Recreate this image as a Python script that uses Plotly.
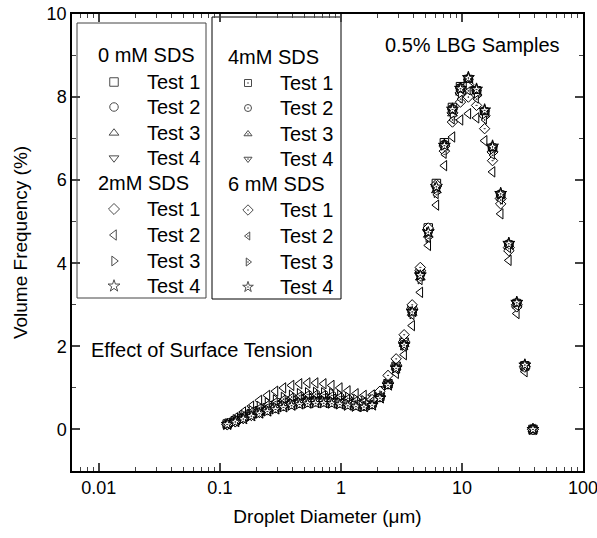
import plotly.graph_objects as go

# Droplet diameter (um)
diam = [0.115, 0.134, 0.156, 0.182, 0.212, 0.247, 0.288, 0.335, 0.391, 0.455,
        0.531, 0.618, 0.721, 0.840, 0.979, 1.14, 1.33, 1.55, 1.81, 2.10,
        2.45, 2.86, 3.33, 3.88, 4.53, 5.27, 6.15, 7.16, 8.35, 9.73,
        11.3, 13.2, 15.4, 17.9, 20.9, 24.4, 28.4, 33.1, 38.6]

# 0 mM SDS
sds0_t1 = [0.13,0.21,0.30,0.38,0.45,0.52,0.58,0.63,0.68,0.71,0.74,0.75,0.75,0.74,0.71,0.67,0.63,0.61,0.64,0.80,1.10,1.52,2.10,2.90,3.80,4.85,5.92,6.90,7.75,8.25,8.42,8.15,7.62,6.75,5.62,4.42,3.02,1.53,0.00]
sds0_t2 = [0.12,0.20,0.28,0.36,0.43,0.50,0.56,0.61,0.65,0.69,0.71,0.72,0.72,0.71,0.68,0.65,0.61,0.59,0.62,0.78,1.08,1.50,2.07,2.87,3.76,4.80,5.88,6.86,7.72,8.22,8.40,8.14,7.64,6.78,5.65,4.45,3.04,1.54,0.00]
sds0_t3 = [0.14,0.23,0.33,0.43,0.52,0.60,0.67,0.73,0.78,0.81,0.84,0.85,0.85,0.83,0.80,0.76,0.71,0.68,0.70,0.84,1.12,1.50,2.05,2.80,3.65,4.68,5.75,6.75,7.60,8.10,8.32,8.08,7.58,6.72,5.60,4.40,3.00,1.52,0.00]
sds0_t4 = [0.13,0.22,0.31,0.40,0.48,0.56,0.62,0.68,0.73,0.76,0.79,0.80,0.80,0.78,0.75,0.71,0.67,0.64,0.67,0.82,1.10,1.49,2.06,2.84,3.72,4.74,5.82,6.80,7.66,8.16,8.38,8.12,7.62,6.76,5.64,4.44,3.03,1.54,0.00]
# 2 mM SDS
sds2_t1 = [0.12,0.19,0.27,0.35,0.42,0.49,0.54,0.59,0.63,0.67,0.69,0.70,0.70,0.69,0.66,0.63,0.60,0.58,0.62,0.79,1.12,1.55,2.12,2.92,3.82,4.82,5.86,6.82,7.62,8.10,8.30,8.05,7.55,6.68,5.56,4.38,3.00,1.52,0.00]
sds2_t2 = [0.15,0.28,0.42,0.56,0.70,0.82,0.92,1.00,1.06,1.10,1.12,1.12,1.10,1.06,1.00,0.93,0.86,0.82,0.83,0.92,1.10,1.35,1.80,2.50,3.30,4.43,5.40,6.35,7.04,7.45,7.60,7.50,6.95,6.20,5.19,4.07,2.79,1.39,0.00]
sds2_t3 = [0.14,0.24,0.35,0.46,0.56,0.65,0.72,0.78,0.83,0.87,0.89,0.90,0.89,0.87,0.83,0.78,0.73,0.70,0.72,0.85,1.12,1.50,2.02,2.78,3.62,4.62,5.70,6.70,7.55,8.05,8.28,8.05,7.55,6.70,5.58,4.40,3.00,1.52,0.00]
sds2_t4 = [0.12,0.19,0.26,0.33,0.40,0.45,0.50,0.55,0.59,0.62,0.64,0.65,0.65,0.64,0.62,0.59,0.56,0.55,0.59,0.76,1.07,1.48,2.04,2.84,3.72,4.76,5.85,6.84,7.71,8.21,8.47,8.19,7.69,6.82,5.68,4.48,3.06,1.55,0.00]
# 4 mM SDS
sds4_t1 = [0.12,0.19,0.27,0.34,0.41,0.47,0.53,0.58,0.62,0.65,0.67,0.68,0.68,0.67,0.65,0.62,0.59,0.57,0.61,0.77,1.08,1.49,2.05,2.85,3.74,4.78,5.86,6.85,7.70,8.22,8.44,8.17,7.66,6.79,5.66,4.46,3.05,1.55,0.00]
sds4_t2 = [0.12,0.19,0.26,0.33,0.40,0.46,0.51,0.56,0.60,0.63,0.65,0.66,0.66,0.65,0.63,0.60,0.57,0.56,0.60,0.76,1.07,1.48,2.04,2.84,3.72,4.76,5.85,6.84,7.72,8.22,8.45,8.18,7.67,6.80,5.67,4.47,3.05,1.55,0.00]
sds4_t3 = [0.13,0.21,0.30,0.38,0.46,0.53,0.59,0.64,0.68,0.72,0.74,0.75,0.75,0.73,0.70,0.66,0.62,0.60,0.63,0.79,1.09,1.50,2.06,2.86,3.74,4.77,5.84,6.82,7.68,8.18,8.40,8.15,7.65,6.78,5.65,4.46,3.04,1.54,0.00]
sds4_t4 = [0.12,0.20,0.28,0.36,0.43,0.49,0.55,0.60,0.64,0.67,0.69,0.70,0.70,0.69,0.66,0.63,0.59,0.57,0.61,0.77,1.08,1.49,2.05,2.85,3.73,4.77,5.85,6.84,7.70,8.20,8.43,8.16,7.66,6.79,5.66,4.46,3.05,1.55,0.00]
# 6 mM SDS
sds6_t1 = [0.12,0.19,0.27,0.34,0.41,0.47,0.53,0.58,0.62,0.65,0.67,0.68,0.68,0.67,0.66,0.64,0.63,0.64,0.72,0.92,1.30,1.70,2.28,3.00,3.90,4.85,5.90,6.70,7.40,7.88,8.00,7.80,7.24,6.47,5.43,4.30,2.95,1.50,0.00]
sds6_t2 = [0.13,0.23,0.33,0.43,0.52,0.60,0.67,0.73,0.78,0.81,0.84,0.85,0.84,0.82,0.79,0.75,0.70,0.67,0.69,0.82,1.08,1.44,1.98,2.74,3.58,4.60,5.65,6.62,7.45,7.95,8.15,7.95,7.45,6.60,5.52,4.35,2.96,1.50,0.00]
sds6_t3 = [0.12,0.20,0.28,0.36,0.43,0.49,0.55,0.60,0.64,0.67,0.69,0.70,0.70,0.69,0.66,0.63,0.59,0.57,0.61,0.77,1.08,1.49,2.05,2.85,3.73,4.76,5.84,6.83,7.70,8.20,8.44,8.17,7.67,6.80,5.67,4.47,3.05,1.55,0.00]
sds6_t4 = [0.12,0.18,0.25,0.32,0.38,0.43,0.48,0.53,0.57,0.60,0.62,0.63,0.63,0.62,0.60,0.57,0.55,0.54,0.58,0.75,1.06,1.47,2.03,2.83,3.71,4.75,5.84,6.83,7.70,8.20,8.46,8.18,7.68,6.80,5.67,4.47,3.05,1.55,0.00]

group_titles = ["0 mM SDS", "2mM SDS", "4mM SDS", "6 mM SDS"]
test_labels = ["Test 1", "Test 2", "Test 3", "Test 4"]
x_ticks = [0.01, 0.1, 1, 10, 100]
x_ticktext = ["0.01", "0.1", "1", "10", "100"]
y_ticks = [0, 2, 4, 6, 8, 10]

series = [
    (sds0_t1, "square", 8.5), (sds0_t2, "circle", 8.5), (sds0_t3, "triangle-up", 8.5), (sds0_t4, "triangle-down", 8.5),
    (sds2_t1, "diamond", 8.5), (sds2_t2, "triangle-left", 9), (sds2_t3, "triangle-right", 8.5), (sds2_t4, "star", 9),
    (sds4_t1, "square-dot", 7), (sds4_t2, "circle-dot", 7), (sds4_t3, "triangle-up-dot", 7), (sds4_t4, "triangle-down-dot", 7),
    (sds6_t1, "diamond-dot", 8), (sds6_t2, "triangle-left-dot", 7), (sds6_t3, "triangle-right-dot", 7), (sds6_t4, "star-dot", 8),
]
for ys, _, _ in series:
    assert len(ys) == len(diam)

FONT = "Liberation Sans, Arial, sans-serif"
fig = go.Figure()
for i, (ys, sym, sz) in enumerate(series):
    fig.add_trace(go.Scatter(
        x=diam, y=ys, mode="markers", showlegend=False,
        name=f"{group_titles[i // 4]} {test_labels[i % 4]}",
        marker=dict(symbol=sym, size=sz, color="white", line=dict(color="black", width=1)),
    ))

# ---- hand-drawn legend boxes (pixel coordinates on an overlay axis) ----
L, R, T, B = 72, 583, 14, 471
boxes = [(77, 206, 23, 298, "#444"), (212, 341, 17, 299, "black")]
head_x = [96, 226]
mark_x = [114, 248]
text_x = [145, 278]
rows = [[55, 82, 107, 133, 158, 183, 209, 235, 261, 286],
        [57, 83, 108, 134, 159, 184, 210, 236, 262, 287]]

shapes = []
annotations = []
for b, (x0, x1, y0, y1, col) in enumerate(boxes):
    shapes.append(dict(type="rect", xref="x2", yref="y2", x0=x0, x1=x1, y0=y0, y1=y1,
                       line=dict(color=col, width=1), fillcolor="rgba(0,0,0,0)", layer="below"))
lx, ly, lsym, lsz = [], [], [], []
for b in range(2):
    for g in range(2):
        gi = b * 2 + g
        annotations.append(dict(xref="x2", yref="y2", x=head_x[b], y=rows[b][g * 5],
                                text=group_titles[gi], showarrow=False, xanchor="left",
                                yanchor="middle", font=dict(size=20, family=FONT, color="black")))
        for t in range(4):
            ry = rows[b][g * 5 + 1 + t]
            annotations.append(dict(xref="x2", yref="y2", x=text_x[b], y=ry,
                                    text=test_labels[t], showarrow=False, xanchor="left",
                                    yanchor="middle", font=dict(size=20, family=FONT, color="black")))
            _, sym, sz = series[gi * 4 + t]
            lx.append(mark_x[b]); ly.append(ry); lsym.append(sym); lsz.append(sz)

fig.add_trace(go.Scatter(x=lx, y=ly, xaxis="x2", yaxis="y2", mode="markers", showlegend=False,
                         marker=dict(symbol=lsym, size=lsz, color="white",
                                     line=dict(color="black", width=1)), hoverinfo="skip"))

annotations.append(dict(xref="x2", yref="y2", x=383, y=45, text="0.5% LBG Samples", showarrow=False,
                        xanchor="left", yanchor="middle", font=dict(size=20, family=FONT, color="black")))
annotations.append(dict(xref="x2", yref="y2", x=89, y=350, text="Effect of Surface Tension", showarrow=False,
                        xanchor="left", yanchor="middle", font=dict(size=20, family=FONT, color="black")))

minor_x = [m * 10.0 ** e for e in range(-3, 2) for m in range(2, 10)]

fig.update_layout(
    width=597, height=538,
    margin=dict(l=L, r=597 - R, t=T, b=538 - B, autoexpand=False),
    paper_bgcolor="white", plot_bgcolor="white",
    font=dict(family=FONT, size=18, color="black"),
    shapes=shapes, annotations=annotations,
    xaxis=dict(type="log", range=[-2.2218, 2.0002], tickvals=x_ticks, ticktext=x_ticktext,
               ticks="inside", ticklen=8, tickwidth=1.5, showline=True, linewidth=1.5,
               linecolor="black", mirror="ticks", showgrid=False, zeroline=False,
               ticklabeloverflow="allow", automargin=False,
               tickfont=dict(size=18), title=dict(text="Droplet Diameter (\u03bcm)", font=dict(size=19), standoff=12),
               minor=dict(tickvals=minor_x, ticks="inside", ticklen=4, tickwidth=1, showgrid=False)),
    yaxis=dict(range=[-1, 10], tickvals=y_ticks, ticks="inside", ticklen=8, tickwidth=1.5,
               showline=True, linewidth=1.5, linecolor="black", mirror="ticks", showgrid=False,
               zeroline=False, tickfont=dict(size=18), ticklabeloverflow="allow", automargin=False,
               title=dict(text="Volume Frequency (%)", font=dict(size=19), standoff=14),
               minor=dict(tickvals=[-1, 1, 3, 5, 7, 9], ticks="inside", ticklen=4, tickwidth=1, showgrid=False)),
    xaxis2=dict(overlaying="x", range=[L, R], visible=False, fixedrange=True),
    yaxis2=dict(overlaying="y", range=[B, T], visible=False, fixedrange=True),
)

fig.write_html("out.html")
